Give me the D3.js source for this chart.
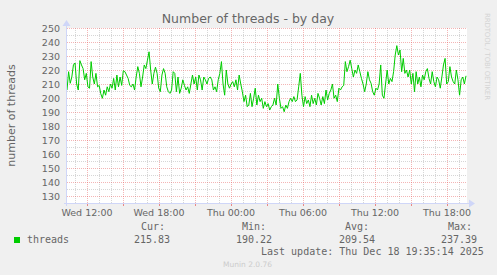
<!DOCTYPE html>
<html>
<head>
<meta charset="utf-8">
<script src="https://cdn.jsdelivr.net/npm/d3@7"></script>
<style>
  body { margin: 0; background: #F0F0F0; }
  svg { display: block; }
</style>
</head>
<body>
<div id="chart"></div>
<script>
// values, one after another from Wed 10:20 to Thu 19:35
const threads = [
  205.7, 218.8, 210.5, 215, 223.6, 225, 210, 205.7, 226.7, 223.6, 221, 213, 217.6, 208, 207, 226, 215, 210, 217.6, 208,
  209, 203, 199.8, 205.7, 202, 208, 204.5, 210, 207, 214, 205.7, 216.4, 208, 215, 209, 219.5, 218.8, 216.4, 214, 209,
  208, 210, 205.7, 215, 222.4, 217.6, 208, 215, 223.6, 221, 227, 233, 220, 210, 217.6, 222, 217.6, 207, 204.5, 216.4,
  221, 217.6, 208, 204.5, 203.3, 205.7, 218.8,
  217.6, 204.5, 215, 203.3, 207, 213, 209, 205.7, 208, 203.3, 210, 216.4, 210, 215, 205.7, 216.4, 213, 205.7, 215, 213,
  210, 214, 215, 213, 205.7, 208, 204.5, 213, 217.6, 226, 210, 202, 220, 210, 207, 210, 211.7, 208, 213, 205.7,
  216.4, 210, 204.5, 197.4, 202, 193.8, 195, 203.3, 193.8, 199.8, 207, 195, 202, 197.4, 199.8, 192.6, 197.4, 193.8, 196, 191.4,
  193.8,
  195, 199.8, 195, 210, 199.8, 192.6, 193.8, 190.2, 195, 192.6, 197.4, 199.8, 197.4, 201, 197.4, 198.6, 208, 217.6, 202, 193.8,
  201, 196, 198.6, 193.8, 202, 196, 199.8, 195, 203.3, 199.8, 195, 201, 196, 205.7, 198.6, 203.3, 205.7, 210, 199.8, 202,
  197.4, 207, 205.7, 208, 209, 226, 218.8, 222.4, 227, 221, 215, 220, 217.6, 223.6, 218.8, 214, 210, 204.5, 210, 218.8,
  213,
  210.5, 204.5, 202, 207, 205.7, 210, 223.6, 202, 199.8, 210, 220, 210, 214, 211.7, 218.8, 230.7, 237.4, 230.7, 234.3, 218.8,
  228.3, 217.6, 220, 215, 220, 210, 217.6, 204.5, 218.8, 210, 215, 208, 216.4, 213, 218.8, 221, 214, 210, 218.8, 211.7,
  208, 215, 213, 207, 215, 223.6, 228.3, 210, 211.7, 222.4, 215, 211.7, 210, 220, 213, 202, 213, 215, 210, 215.83
];
const yTicks = [130, 140, 150, 160, 170, 180, 190, 200, 210, 220, 230, 240, 250];
const legendHeads = ["Cur:", "Min:", "Avg:", "Max:"];
const legendValues = ["215.83", "190.22", "209.54", "237.39"];

const width = 497, height = 275;
const plotLeft = 67, plotRight = 467, plotTop = 28, plotBottom = 203;

const tStart = new Date(2025, 11, 17, 10, 20);
const tEnd = new Date(2025, 11, 18, 19, 40);
const tLast = new Date(2025, 11, 18, 19, 35);

const x = d3.scaleTime().domain([tStart, tEnd]).range([plotLeft, plotRight]);
const y = d3.scaleLinear().domain([125, 250]).range([plotBottom, plotTop]);

const step = (tLast - tStart) / (threads.length - 1);
const points = threads.map((v, i) => ({t: new Date(+tStart + i * step), v: v}));

const svg = d3.select("#chart").append("svg")
    .attr("width", width)
    .attr("height", height)
    .style("font-family", "'DejaVu Sans', sans-serif");

svg.append("rect").attr("width", width).attr("height", height).attr("fill", "#F0F0F0");
svg.append("rect")
    .attr("x", plotLeft).attr("y", plotTop)
    .attr("width", plotRight - plotLeft).attr("height", plotBottom - plotTop)
    .attr("fill", "#FFFFFF");

// grid: minor every 5 / 1h in gray, major every 10 / 3h in red
const minorY = d3.range(135, 250, 10);
const hours = x.ticks(d3.timeHour.every(1));
const minorX = hours.filter(d => d.getHours() % 3 !== 0);
const majorX = hours.filter(d => d.getHours() % 3 === 0);
const minorCol = "rgba(128,128,128,0.32)";
const majorCol = "rgba(230,90,90,0.45)";

const grid = svg.append("g").attr("fill", "none").attr("stroke-width", 1).attr("stroke-dasharray", "1,1");

grid.selectAll(".minory").data(minorY).enter().append("line")
    .attr("x1", plotLeft).attr("x2", plotRight)
    .attr("y1", d => Math.round(y(d)) + 0.5).attr("y2", d => Math.round(y(d)) + 0.5)
    .attr("stroke", minorCol);
grid.selectAll(".minorx").data(minorX).enter().append("line")
    .attr("y1", plotTop).attr("y2", plotBottom)
    .attr("x1", d => Math.round(x(d)) + 0.5).attr("x2", d => Math.round(x(d)) + 0.5)
    .attr("stroke", minorCol);
grid.selectAll(".majory").data(yTicks).enter().append("line")
    .attr("x1", plotLeft).attr("x2", plotRight)
    .attr("y1", d => Math.round(y(d)) + 0.5).attr("y2", d => Math.round(y(d)) + 0.5)
    .attr("stroke", majorCol);
grid.selectAll(".majorx").data(majorX).enter().append("line")
    .attr("y1", plotTop).attr("y2", plotBottom)
    .attr("x1", d => Math.round(x(d)) + 0.5).attr("x2", d => Math.round(x(d)) + 0.5)
    .attr("stroke", majorCol);

// small red ticks under the x axis
svg.append("g").selectAll("line").data(majorX).enter().append("line")
    .attr("y1", plotBottom).attr("y2", plotBottom + 3)
    .attr("x1", d => Math.round(x(d)) + 0.5).attr("x2", d => Math.round(x(d)) + 0.5)
    .attr("stroke", "rgba(230,90,90,0.7)");

// the series
const line = d3.line().x(d => x(d.t)).y(d => y(d.v));
svg.append("path")
    .datum(points)
    .attr("d", line)
    .attr("fill", "none")
    .attr("stroke", "#00CC00")
    .attr("stroke-width", 1);

// axes with arrows
const axisCol = "#CFD6F8";
svg.append("line")
    .attr("x1", plotLeft - 3).attr("x2", plotRight + 3)
    .attr("y1", plotBottom + 0.5).attr("y2", plotBottom + 0.5)
    .attr("stroke", axisCol);
svg.append("line")
    .attr("x1", plotLeft - 0.5).attr("x2", plotLeft - 0.5)
    .attr("y1", plotBottom + 3).attr("y2", plotTop - 5)
    .attr("stroke", axisCol);
svg.append("path")
    .attr("d", `M${plotRight + 2},${plotBottom - 3.5}L${plotRight + 8},${plotBottom + 0.5}L${plotRight + 2},${plotBottom + 4.5}Z`)
    .attr("fill", axisCol);
svg.append("path")
    .attr("d", `M${plotLeft - 4.5},${plotTop - 2}L${plotLeft - 0.5},${plotTop - 8}L${plotLeft + 3.5},${plotTop - 2}Z`)
    .attr("fill", axisCol);

// y labels
svg.append("g").selectAll("text").data(yTicks).enter().append("text")
    .attr("x", 60)
    .attr("y", d => y(d) + 3.5)
    .attr("text-anchor", "end")
    .attr("font-size", "9.5px")
    .attr("fill", "#666666")
    .text(d => d);

// x labels every 6 hours
const labelX = hours.filter(d => d.getHours() % 6 === 0);
const fmt = d3.timeFormat("%a %H:%M");
svg.append("g").selectAll("text").data(labelX).enter().append("text")
    .attr("x", d => x(d))
    .attr("y", 216)
    .attr("text-anchor", "middle")
    .attr("font-size", "9.5px")
    .attr("fill", "#666666")
    .text(d => fmt(d));

// title and side texts
svg.append("text")
    .attr("x", 248).attr("y", 23)
    .attr("text-anchor", "middle")
    .attr("font-size", "12.5px")
    .attr("fill", "#666666")
    .text("Number of threads - by day");

svg.append("text")
    .attr("transform", "translate(15,115.5) rotate(-90)")
    .attr("text-anchor", "middle")
    .attr("font-size", "11px")
    .attr("fill", "#666666")
    .text("number of threads");

svg.append("text")
    .attr("transform", "translate(485,13) rotate(90)")
    .attr("font-size", "7px")
    .attr("textLength", 87)
    .attr("lengthAdjust", "spacing")
    .attr("fill", "#D4D4D4")
    .text("RRDTOOL / TOBI OETIKER");

// legend
const mono = "'DejaVu Sans Mono', monospace";
const headX = [141, 242, 345, 448];
const valX = [134, 236, 339, 441];

svg.append("rect")
    .attr("x", 14).attr("y", 237).attr("width", 6).attr("height", 6)
    .attr("fill", "#00CC00");
svg.append("text")
    .attr("x", 27).attr("y", 242.5)
    .attr("font-family", mono).attr("font-size", "10px").attr("fill", "#666666")
    .text("threads");

svg.append("g").selectAll("text").data(legendHeads).enter().append("text")
    .attr("x", (d, i) => headX[i]).attr("y", 230)
    .attr("font-family", mono).attr("font-size", "10px").attr("fill", "#666666")
    .text(d => d);
svg.append("g").selectAll("text").data(legendValues).enter().append("text")
    .attr("x", (d, i) => valX[i]).attr("y", 242.5)
    .attr("font-family", mono).attr("font-size", "10px").attr("fill", "#666666")
    .text(d => d);

svg.append("text")
    .attr("x", 261).attr("y", 255)
    .attr("font-family", mono).attr("font-size", "10px").attr("fill", "#666666")
    .text("Last update: Thu Dec 18 19:35:14 2025");

svg.append("text")
    .attr("x", 223).attr("y", 267)
    .attr("font-size", "7.5px")
    .attr("fill", "#CCCCCC")
    .text("Munin 2.0.76");
</script>
</body>
</html>
